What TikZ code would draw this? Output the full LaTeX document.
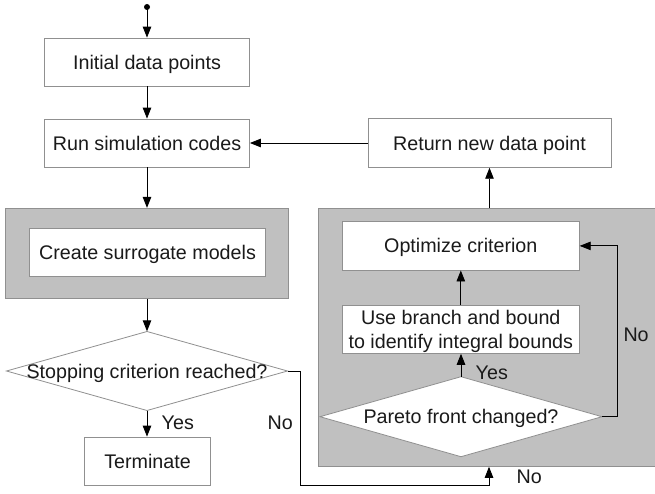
\documentclass[tikz,border=0pt]{standalone}
\usepackage{fontspec}
\setmainfont{Liberation Sans}
\usetikzlibrary{arrows.meta,calc}
\definecolor{boxgray}{HTML}{C0C0C0}
\definecolor{edgegray}{HTML}{909090}
\definecolor{txt}{HTML}{1A1A1A}
\tikzset{
  box/.style={draw=edgegray, line width=0.8pt, fill=white, inner sep=0pt, text=txt,
              text height=14.1pt, text depth=0pt},
  panel/.style={fill=boxgray, draw=edgegray, line width=0.8pt, inner sep=0pt},
  arr/.style={draw=black, line width=0.9pt, -{Triangle[length=11pt,width=8.5pt]}},
  lbl/.style={text=txt, inner sep=0pt, anchor=west},
  dia/.style={draw=edgegray, line width=0.8pt},
}
\begin{document}
\begin{tikzpicture}[x=1pt,y=-1pt,font=\fontsize{19.7pt}{23.7pt}\selectfont]
\clip (0,0) rectangle (655,494);
\fill[white] (0,0) rectangle (655,494);

% panels
\node[panel, minimum width=283pt, minimum height=90pt] (gray1) at (147.3,253.3) {};
\node[panel, draw=none, minimum width=340pt, minimum height=257.7pt, anchor=north west] (gray2) at (318.3,208.3) {};
\draw[edgegray, line width=0.8pt] (gray2.north east) -- (gray2.north west) -- (gray2.south west) -- (gray2.south east);

% boxes
\node[box, minimum width=205pt, minimum height=48pt] (init) at (147,62) {Initial data points};
\node[box, minimum width=205pt, minimum height=48pt] (run) at (147,143) {Run simulation codes};
\node[box, minimum width=236.4pt, minimum height=47.7pt] (surr) at (147.5,252.2) {Create surrogate models};
\node[box, minimum width=126pt, minimum height=48pt] (term) at (147.5,461) {Terminate};
\node[box, minimum width=243pt, minimum height=48.7pt] (ret) at (489.5,143) {Return new data point};
\node[box, minimum width=237pt, minimum height=48.3pt] (opt) at (460.8,245.9) {Optimize criterion};
\node[box, minimum width=237pt, minimum height=48.3pt, align=center, text height=37.8pt, text depth=0pt] (use) at (460.8,329.2)
  {Use branch and bound\\to identify integral bounds};

% diamonds
\coordinate (d1c) at (147,371);
\draw[dia, fill=white] ($(d1c)+(0,-39.5)$) -- ($(d1c)+(140.5,0)$) -- ($(d1c)+(0,39.5)$) -- ($(d1c)+(-140.5,0)$) -- cycle;
\node[inner sep=0pt, minimum width=281pt, minimum height=79pt, text=txt, text height=14.1pt, text depth=0pt] (d1) at (d1c) {Stopping criterion reached?};

\coordinate (d2c) at (461,416.7);
\draw[dia, fill=white] ($(d2c)+(0,-40)$) -- ($(d2c)+(141,0)$) -- ($(d2c)+(0,40)$) -- ($(d2c)+(-141,0)$) -- cycle;
\node[inner sep=0pt, minimum width=282pt, minimum height=80pt, text=txt, text height=14.1pt, text depth=0pt] (d2) at (d2c) {Pareto front changed?};

% start
\coordinate (start) at (147,7);
\fill[black] (start) circle (3pt);

% connectors
\draw[arr] (start) -- (init.north);
\draw[arr] (init.south) -- (run.north);
\draw[arr] (run.south) -- (run.south |- gray1.north);
\draw[arr] (d1.north |- gray1.south) -- (d1.north);
\draw[arr] (d1.south) -- (d1.south |- term.north);
\draw[arr] (ret.west) -- (run.east);
\draw[arr] (ret.south |- gray2.north) -- (ret.south);

\coordinate (k1) at (300,371);
\coordinate (k2) at (300,485);
\coordinate (k3) at (489,485);
\draw[arr] (d1.east) -- (k1) -- (k2) -- (k3) -- (k3 |- gray2.south);

\draw[arr] (use.north) -- (opt.south);
\draw[arr] (d2.north) -- (d2.north |- use.south);
\coordinate (k4) at (617.3,416.7);
\draw[arr] (d2.east) -- (k4) |- (opt.east);

% labels
\node[lbl] (yes1) at (161.5,422.7) {Yes};
\node[lbl] (no1) at (267.5,422.7) {No};
\node[lbl] (yes2) at (475.5,372.7) {Yes};
\node[lbl] (no2) at (516.5,476.7) {No};
\node[lbl] (no3) at (623.3,335) {No};
\end{tikzpicture}
\end{document}
